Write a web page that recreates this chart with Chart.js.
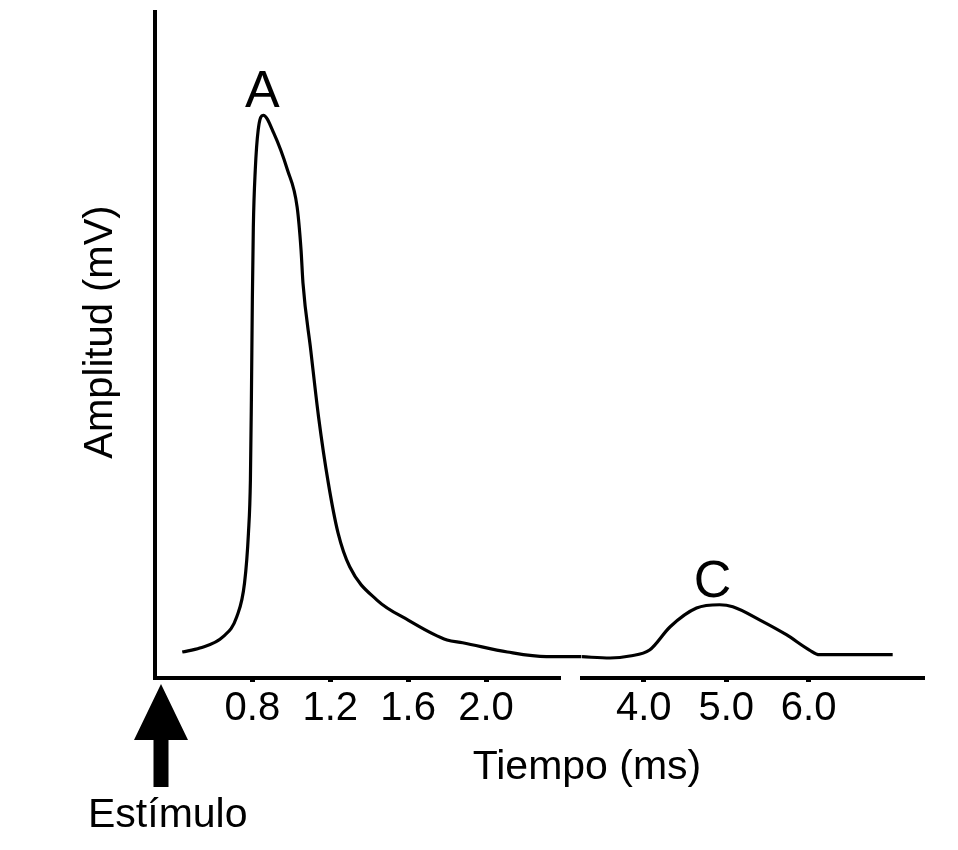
<!DOCTYPE html>
<html>
<head>
<meta charset="utf-8">
<title>Amplitud vs tiempo</title>
<script src="https://cdn.jsdelivr.net/npm/chart.js@4.4.1/dist/chart.umd.min.js"></script>
<style>
  html, body { margin: 0; padding: 0; background: #fff; }
  #wrap { width: 958px; height: 850px; }
</style>
</head>
<body>
<div id="wrap"><canvas id="potencial"></canvas></div>
<script>
// early response (wave A), in ms / mV
const timesEarly = [0.44, 0.53, 0.65, 0.72, 0.76, 0.78, 0.79, 0.795, 0.80, 0.805, 0.815, 0.83, 0.856,
  0.91, 0.98, 1.03, 1.05, 1.06, 1.10, 1.14, 1.19, 1.24, 1.30, 1.44, 1.60, 1.80, 1.88, 2.11, 2.31, 2.49];
const ampEarly = [0.39, 0.45, 0.62, 0.92, 1.43, 2.18, 2.97, 4.17, 5.68, 6.77, 7.63, 8.23, 8.45,
  8.18, 7.63, 7.07, 6.43, 5.93, 4.92, 3.92, 2.93, 2.18, 1.67, 1.17, 0.87, 0.57, 0.53, 0.39, 0.32, 0.32];

// late response (wave C)
const timesLate = [3.25, 3.59, 3.83, 4.07, 4.32, 4.64, 4.92, 5.08, 5.41, 5.73, 6.01, 6.13, 7.02];
const ampLate = [0.32, 0.30, 0.33, 0.42, 0.77, 1.05, 1.10, 1.07, 0.87, 0.65, 0.42, 0.35, 0.35];

const ticksEarly = [0.8, 1.2, 1.6, 2.0];
const ticksLate = [4.0, 5.0, 6.0];

const FONT = '"Liberation Sans", Arial, sans-serif';

const toPoints = (xs, ys) => xs.map((x, i) => ({ x: x, y: ys[i] }));

// draws the axis titles, peak letters and the stimulus arrow
const annotations = {
  id: 'annotations',
  afterDraw(chart) {
    const ctx = chart.ctx;
    const area = chart.chartArea;
    ctx.save();
    ctx.fillStyle = '#000';

    // y title
    ctx.save();
    ctx.translate(101, 332);
    ctx.rotate(-Math.PI / 2);
    ctx.font = '40px ' + FONT;
    ctx.textAlign = 'center';
    ctx.textBaseline = 'middle';
    ctx.fillText('Amplitud (mV)', 0, 0);
    ctx.restore();

    // x title
    ctx.font = '41px ' + FONT;
    ctx.textAlign = 'center';
    ctx.textBaseline = 'alphabetic';
    ctx.fillText('Tiempo (ms)', 587, 779);

    // peak letters
    const peakLabel = (text, datasetIndex, dx) => {
      const meta = chart.getDatasetMeta(datasetIndex);
      const data = chart.data.datasets[datasetIndex].data;
      let best = 0;
      data.forEach((p, i) => { if (p.y > data[best].y) best = i; });
      const el = meta.data[best];
      ctx.font = '52px ' + FONT;
      ctx.textAlign = 'center';
      ctx.textBaseline = 'alphabetic';
      ctx.fillText(text, el.x + dx, el.y - 8);
    };
    peakLabel('A', 0, -1);
    peakLabel('C', 1, -7);

    // stimulus arrow
    const ax = area.left + 6;
    ctx.beginPath();
    ctx.moveTo(ax, 684);
    ctx.lineTo(ax + 27, 740);
    ctx.lineTo(ax + 7.5, 740);
    ctx.lineTo(ax + 7.5, 787);
    ctx.lineTo(ax - 7.5, 787);
    ctx.lineTo(ax - 7.5, 740);
    ctx.lineTo(ax - 27, 740);
    ctx.closePath();
    ctx.fill();

    ctx.font = '41px ' + FONT;
    ctx.textAlign = 'left';
    ctx.fillText('Estímulo', 88, 827);
    ctx.restore();
  }
};

const xAxis = (min, max, weight, tickValues) => ({
  type: 'linear',
  position: 'bottom',
  stack: 'tiempo',
  stackWeight: weight,
  min: min,
  max: max,
  afterBuildTicks: (scale) => { scale.ticks = tickValues.map(v => ({ value: v })); },
  afterFit: (scale) => { scale.height = 172; },
  border: { display: true, color: '#000', width: 4 },
  grid: { display: true, drawOnChartArea: false, drawTicks: true, tickLength: 4, tickWidth: 5, tickColor: '#000' },
  ticks: {
    color: '#000',
    padding: 3,
    maxRotation: 0,
    autoSkip: false,
    font: { family: FONT, size: 40 },
    callback: (v) => Number(v).toFixed(1)
  }
});

new Chart(document.getElementById('potencial'), {
  type: 'line',
  data: {
    datasets: [
      {
        label: 'A',
        data: toPoints(timesEarly, ampEarly),
        xAxisID: 'xa',
        borderColor: '#000',
        borderWidth: 3.2,
        pointRadius: 0,
        cubicInterpolationMode: 'monotone',
        clip: false,
        fill: false
      },
      {
        label: 'C',
        data: toPoints(timesLate, ampLate),
        xAxisID: 'xb',
        borderColor: '#000',
        borderWidth: 3.2,
        pointRadius: 0,
        cubicInterpolationMode: 'monotone',
        clip: false,
        fill: false
      }
    ]
  },
  options: {
    responsive: true,
    maintainAspectRatio: false,
    animation: false,
    layout: { padding: { top: 12, right: 34, bottom: 0, left: 0 } },
    plugins: { legend: { display: false }, tooltip: { enabled: false } },
    scales: {
      xa: xAxis(0.3, 2.38, 405, ticksEarly),
      // blank stretch where the time axis is broken
      gap: {
        type: 'linear',
        position: 'bottom',
        stack: 'tiempo',
        stackWeight: 22,
        min: 0,
        max: 1,
        afterFit: (scale) => { scale.height = 172; },
        border: { display: false },
        grid: { display: false },
        ticks: { display: false }
      },
      xb: xAxis(3.25, 7.4, 342, ticksLate),
      y: {
        type: 'linear',
        position: 'left',
        min: 0,
        max: 10,
        afterFit: (scale) => { scale.width = 155; },
        border: { display: true, color: '#000', width: 4 },
        grid: { display: false },
        ticks: { display: false }
      }
    }
  },
  plugins: [annotations]
});
</script>
</body>
</html>
